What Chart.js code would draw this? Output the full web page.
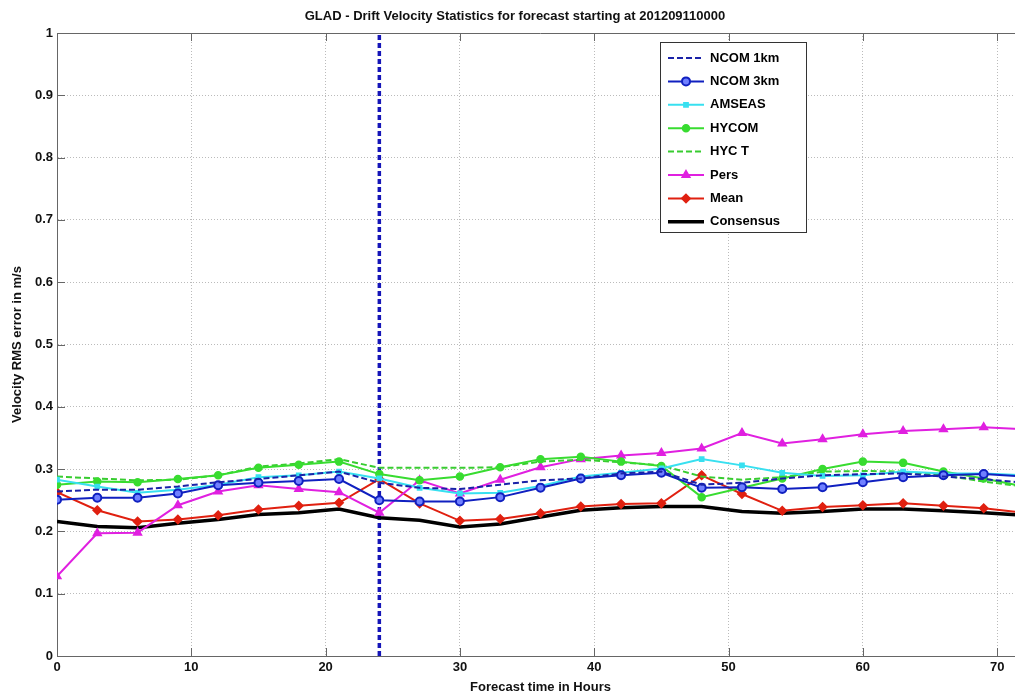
<!DOCTYPE html>
<html>
<head>
<meta charset="utf-8">
<script src="https://cdn.jsdelivr.net/npm/chart.js@4.4.1/dist/chart.umd.min.js"></script>
<style>
  html, body { margin: 0; padding: 0; background: #fff; overflow: hidden; }
  #wrap { width: 1030px; height: 696px; }
</style>
</head>
<body>
<div id="wrap"><canvas id="chart"></canvas></div>
<script>
// forecast hours
const HOURS = [0, 3, 6, 9, 12, 15, 18, 21, 24, 27, 30, 33, 36, 39, 42, 45, 48, 51, 54, 57, 60, 63, 66, 69, 72];

const NCOM1 = [0.264, 0.267, 0.267, 0.272, 0.279, 0.284, 0.290, 0.296, 0.278, 0.270, 0.268, 0.275, 0.282, 0.285, 0.293, 0.296, 0.275, 0.278, 0.285, 0.290, 0.292, 0.293, 0.288, 0.284, 0.278];
const NCOM3 = [0.251, 0.254, 0.254, 0.261, 0.274, 0.278, 0.281, 0.284, 0.250, 0.248, 0.248, 0.255, 0.270, 0.285, 0.290, 0.294, 0.270, 0.271, 0.268, 0.271, 0.279, 0.287, 0.290, 0.292, 0.288];
const AMSEAS = [0.283, 0.272, 0.262, 0.267, 0.275, 0.287, 0.290, 0.296, 0.285, 0.270, 0.261, 0.262, 0.273, 0.288, 0.294, 0.301, 0.316, 0.306, 0.294, 0.289, 0.290, 0.296, 0.293, 0.293, 0.290];
const HYCOM = [0.275, 0.280, 0.279, 0.284, 0.290, 0.302, 0.307, 0.312, 0.292, 0.282, 0.288, 0.303, 0.316, 0.320, 0.312, 0.305, 0.255, 0.270, 0.285, 0.300, 0.312, 0.310, 0.296, 0.285, 0.272];
const HYCT = [0.288, 0.285, 0.282, 0.283, 0.290, 0.304, 0.309, 0.316, 0.302, 0.302, 0.302, 0.303, 0.312, 0.315, 0.311, 0.306, 0.288, 0.283, 0.287, 0.296, 0.297, 0.296, 0.290, 0.280, 0.272];
const PERS = [0.128, 0.197, 0.198, 0.242, 0.264, 0.274, 0.268, 0.263, 0.230, 0.282, 0.261, 0.283, 0.303, 0.316, 0.322, 0.326, 0.333, 0.358, 0.341, 0.348, 0.356, 0.361, 0.364, 0.367, 0.364];
const MEAN = [0.263, 0.234, 0.216, 0.219, 0.226, 0.235, 0.241, 0.246, 0.284, 0.245, 0.217, 0.220, 0.229, 0.240, 0.244, 0.245, 0.290, 0.260, 0.233, 0.239, 0.242, 0.245, 0.241, 0.237, 0.230];
const CONSENSUS = [0.216, 0.208, 0.206, 0.213, 0.219, 0.227, 0.230, 0.236, 0.222, 0.218, 0.207, 0.212, 0.223, 0.234, 0.238, 0.240, 0.240, 0.232, 0.229, 0.232, 0.236, 0.236, 0.233, 0.230, 0.226];

const MARKER_HOUR = 24;

const FONT = "'Liberation Sans', Arial, Helvetica, sans-serif";

function pts(values) {
  return HOURS.map((h, i) => ({ x: h, y: values[i] }));
}

function series(label, values, color, extra) {
  return Object.assign({
    label,
    data: pts(values),
    borderColor: color,
    backgroundColor: color,
    borderWidth: 2,
    pointRadius: 0,
    pointBorderWidth: 1.5,
    tension: 0,
  }, extra);
}

const datasets = [
  series('NCOM 1km', NCOM1, '#1a22a8', { borderDash: [6, 3] }),
  series('NCOM 3km', NCOM3, '#1020c0', { pointStyle: 'circle', pointRadius: 4, backgroundColor: '#7080ff', pointBorderColor: '#1020c0', pointBorderWidth: 2 }),
  series('AMSEAS', AMSEAS, '#38e0f0', { pointStyle: 'rect', pointRadius: 3 }),
  series('HYCOM', HYCOM, '#38dc30', { pointStyle: 'circle', pointRadius: 3.5 }),
  series('HYC T', HYCT, '#38cc30', { borderDash: [6, 3] }),
  series('Pers', PERS, '#e020e0', { pointStyle: 'triangle', pointRadius: 4.5 }),
  series('Mean', MEAN, '#e02010', { pointStyle: 'rectRot', pointRadius: 4.2 }),
  series('Consensus', CONSENSUS, '#000000', { borderWidth: 3.5 }),
  {
    label: 'marker',
    data: [{ x: MARKER_HOUR, y: 0 }, { x: MARKER_HOUR, y: 1 }],
    borderColor: '#1515b8',
    borderWidth: 3.5,
    borderDash: [5, 3],
    pointRadius: 0,
  },
];

// ── MATLAB-ish inward ticks, top frame and boxed legend ──────────────────

const matlabDecor = {
  id: 'matlabDecor',
  afterDraw(chart) {
    const { ctx, chartArea: a, scales: { x, y } } = chart;
    ctx.save();
    ctx.strokeStyle = '#666';
    ctx.lineWidth = 1;
    ctx.beginPath();
    ctx.moveTo(a.left, a.top + 0.5); ctx.lineTo(a.right, a.top + 0.5);
    x.ticks.forEach(t => {
      const px = Math.round(x.getPixelForValue(t.value)) + 0.5;
      ctx.moveTo(px, a.bottom); ctx.lineTo(px, a.bottom - 8);
      ctx.moveTo(px, a.top); ctx.lineTo(px, a.top + 8);
    });
    y.ticks.forEach(t => {
      const py = Math.round(y.getPixelForValue(t.value)) + 0.5;
      ctx.moveTo(a.left, py); ctx.lineTo(a.left + 8, py);
    });
    ctx.stroke();

    // legend box
    const bx = 660, by = 42, bw = 146, bh = 190, step = 23.4;
    ctx.fillStyle = '#fff';
    ctx.fillRect(bx, by, bw, bh);
    ctx.strokeStyle = '#333';
    ctx.strokeRect(bx + 0.5, by + 0.5, bw, bh);
    ctx.font = 'bold 13px ' + FONT;
    ctx.textBaseline = 'middle';
    chart.data.datasets.slice(0, 8).forEach((ds, i) => {
      const cy = by + 16 + i * step;
      ctx.strokeStyle = ds.borderColor;
      ctx.lineWidth = ds.borderWidth;
      ctx.setLineDash(ds.borderDash || []);
      ctx.beginPath();
      ctx.moveTo(bx + 8, cy); ctx.lineTo(bx + 44, cy);
      ctx.stroke();
      ctx.setLineDash([]);
      if (ds.pointRadius) {
        ctx.fillStyle = ds.backgroundColor;
        ctx.strokeStyle = ds.pointBorderColor || ds.borderColor;
        ctx.lineWidth = ds.pointBorderWidth;
        Chart.helpers.drawPoint(ctx, {
          pointStyle: ds.pointStyle, radius: ds.pointRadius,
          borderWidth: ds.pointBorderWidth, rotation: 0,
        }, bx + 26, cy);
      }
      ctx.fillStyle = '#000';
      ctx.fillText(ds.label, bx + 50, cy);
    });
    ctx.restore();
  },
};

new Chart(document.getElementById('chart'), {
  type: 'line',
  data: { datasets },
  plugins: [matlabDecor],
  options: {
    responsive: true, maintainAspectRatio: false,
    animation: false,
    layout: { padding: 0 },
    plugins: {
      legend: { display: false },
      tooltip: { enabled: false },
      title: {
        display: true,
        text: 'GLAD - Drift Velocity Statistics for forecast starting at 201209110000',
        color: '#111',
        font: { family: FONT, size: 13, weight: 'bold', lineHeight: 1.2 },
        padding: { top: 9, bottom: 8.4 },
      },
    },
    scales: {
      x: {
        type: 'linear', min: 0, max: 72,
        afterFit: s => { s.height = 40; },
        border: { color: '#666', width: 1, dash: [1, 2] },
        grid: { color: '#bbb', drawTicks: false },
        ticks: {
          stepSize: 10, padding: 4, color: '#111',
          font: { family: FONT, size: 13, weight: 'bold' },
          callback: v => (v > 70 ? '' : v),
        },
        title: {
          display: true, text: 'Forecast time in Hours', color: '#111',
          font: { family: FONT, size: 13, weight: 'bold' }, padding: { top: 0, bottom: 1 },
        },
      },
      y: {
        min: 0, max: 1,
        afterFit: s => { s.width = 57; },
        border: { color: '#666', width: 1, dash: [1, 2] },
        grid: { color: '#bbb', drawTicks: false },
        ticks: {
          stepSize: 0.1, padding: 4, color: '#111',
          font: { family: FONT, size: 13, weight: 'bold' },
          callback: v => String(Number(v.toFixed(1))),
        },
        title: {
          display: true, text: 'Velocity RMS error in m/s', color: '#111',
          font: { family: FONT, size: 13, weight: 'bold' }, padding: { top: 10, bottom: 0 },
        },
      },
    },
  },
});
</script>
</body>
</html>
